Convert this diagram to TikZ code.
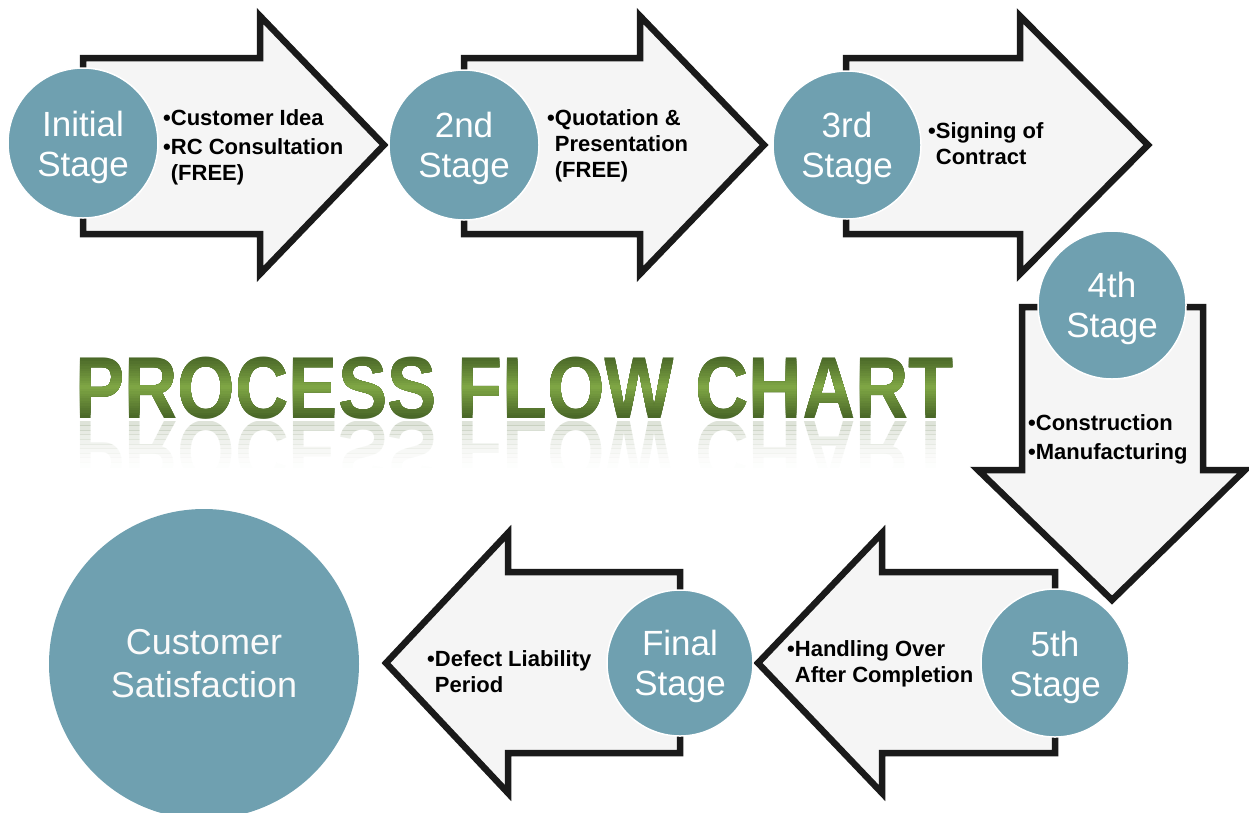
\documentclass[tikz,border=0pt]{standalone}
\usepackage{fontspec}
\setmainfont{Liberation Sans}
\definecolor{stageteal}{RGB}{111,160,176}
\definecolor{arrowfill}{RGB}{245,245,245}
\definecolor{arrowline}{RGB}{26,26,26}
\definecolor{titledark}{RGB}{74,104,40}
\definecolor{titlelight}{RGB}{126,165,68}
\definecolor{reflcol}{RGB}{120,140,100}
\newcommand\pfctitle{\scalebox{0.84}[1]{\fontsize{88}{88}\selectfont\bfseries PROCESS FLOW CHART}}
\newcommand\pfcrefl{\scalebox{0.84}[-1]{\fontsize{88}{88}\selectfont\bfseries PROCESS FLOW CHART}}
\newcommand\hb{\phantom{•}}
\begin{document}
\begin{tikzpicture}[x=1pt,y=-1pt,
  arrowshape/.style={draw=arrowline, fill=arrowfill, line width=6.5pt, line join=miter, miter limit=10},
  stagecircle/.style={circle, fill=stageteal, draw=white, line width=1.5pt, inner sep=0pt},
  stagelabel/.style={inner sep=0pt, text=white, font=\fontsize{35}{40}\selectfont, align=center},
  bullettext/.style={anchor=north west, inner sep=0pt, align=left, text=black,
     font=\fontsize{22}{26}\selectfont\bfseries},
  titletext/.style={anchor=base west, inner sep=0pt}
]
\fill[white] (0,0) rectangle (1249,812);
\useasboundingbox (0,0) rectangle (1249,812);

% ---- arrows ----
\draw[arrowshape] (83,58) -- (260,58) -- (260,16) -- (384,145) -- (260,274) -- (260,234) -- (83,234) -- cycle;
\draw[arrowshape] (464,58) -- (640,58) -- (640,16) -- (764,145) -- (640,274) -- (640,234) -- (464,234) -- cycle;
\draw[arrowshape] (846,58) -- (1020,58) -- (1020,16) -- (1148,145) -- (1020,274) -- (1020,234) -- (846,234) -- cycle;
\draw[arrowshape] (1022,307) -- (1203,307) -- (1203,470) -- (1245,470) -- (1112,600) -- (978,470) -- (1022,470) -- cycle;
\draw[arrowshape] (1055,572) -- (882,572) -- (882,533) -- (758,663) -- (882,793) -- (882,753) -- (1055,753) -- cycle;
\draw[arrowshape] (680,572) -- (508,572) -- (508,533) -- (386,663) -- (508,793) -- (508,753) -- (680,753) -- cycle;

% ---- stage circles ----
\node[stagecircle, minimum size=150pt] (s1) at (83,143) {};
\node[stagecircle, minimum size=150pt] (s2) at (464,145) {};
\node[stagecircle, minimum size=148pt] (s3) at (847,145) {};
\node[stagecircle, minimum size=148pt] (s4) at (1112,305) {};
\node[stagecircle, minimum size=148pt] (s5) at (1055,663) {};
\node[stagecircle, minimum size=146pt] (s6) at (680,663) {};
\node[stagecircle, minimum size=310pt, draw=none] (cs) at (204,664) {};
\node[stagelabel] (s1l) at ([yshift=-4pt]s1.center) {Initial\\Stage};
\node[stagelabel] (s2l) at ([yshift=-3pt]s2.center) {2nd\\Stage};
\node[stagelabel] (s3l) at ([yshift=-3pt]s3.center) {3rd\\Stage};
\node[stagelabel] (s4l) at ([yshift=-3pt]s4.center) {4th\\Stage};
\node[stagelabel] (s5l) at ([yshift=-4pt]s5.center) {5th\\Stage};
\node[stagelabel] (s6l) at ([yshift=-3pt]s6.center) {Final\\Stage};
\node[stagelabel, text={rgb,255:red,250;green,250;blue,250}, font=\fontsize{36}{43}\selectfont]
   (csl) at ([yshift=0pt]cs.center) {Customer\\Satisfaction};

% ---- bullet texts ----
\node[bullettext] (t1) at (163,109) {•Customer Idea\\[3pt]•RC Consultation\\\hb(FREE)};
\node[bullettext] (t2) at (547,109) {•Quotation \&\\\hb Presentation\\\hb(FREE)};
\node[bullettext] (t3) at (928,122) {•Signing of\\\hb Contract};
\node[bullettext] (t4) at (1028,414) {•Construction\\[3pt]•Manufacturing};
\node[bullettext] (t5) at (787,640) {•Handling Over\\\hb After Completion};
\node[bullettext] (t6) at (427,650) {•Defect Liability\\\hb Period};

% ---- title with vertical gradient (banded) ----
\node[titletext, text=titledark] (title) at (75,418) {\pfctitle};
\foreach \i in {1,...,12}{
  \pgfmathsetmacro{\hh}{30-2.4*\i}
  \pgfmathsetmacro{\pc}{8.33*\i}
  \begin{scope}
    \clip (0,{387-\hh}) rectangle (1249,{387+\hh});
    \node[titletext, text=titlelight!\pc!titledark] at (75,418) {\pfctitle};
  \end{scope}
}
% reflection
\foreach \i in {0,...,9}{
  \pgfmathsetmacro{\op}{0.24*(1-\i/10)^1.6}
  \begin{scope}
    \clip (0,{421+4.6*\i}) rectangle (1249,{421+4.6*(\i+1)});
    \node[titletext, text=reflcol, opacity=\op] at (75,421) {\pfcrefl};
  \end{scope}
}
\end{tikzpicture}
\end{document}
